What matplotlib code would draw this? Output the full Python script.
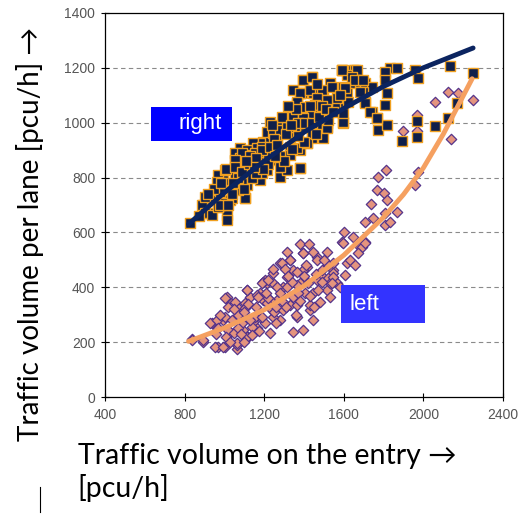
import matplotlib
matplotlib.use("Agg")
import matplotlib.pyplot as plt
from matplotlib.patches import Rectangle
from matplotlib.lines import Line2D

# right-turn lane: entry volume vs. lane volume
right_x = [827, 1013, 928, 892, 968, 943, 1028, 1103, 978, 1063, 993, 1113, 1179, 1068, 1139,
           1279, 1315, 1380, 1053, 1113, 1164, 1229, 1194, 1264, 1078, 1144, 1229, 1279, 1345,
           1330, 1380, 1415, 1465, 1415, 1345, 1445, 1515, 1596, 1505, 1380, 1445, 1495, 1566,
           1445, 1531, 1596, 1591, 1646, 1656, 1395, 1440, 1566,
           1591, 1656, 1832, 1867, 1958, 1973, 2134, 2250, 1807, 1807, 1616, 1646, 1681, 1706,
           1741, 1817, 1696, 1616, 1807, 1706, 1606, 1741, 1596, 1767, 1772, 1817, 1892, 1968,
           1968, 2058, 2124, 2169,
           1053, 1078, 1063, 1113, 1119, 1164, 1194, 1229, 1214, 1244, 1279, 1315, 1365, 1289,
           1345, 1390, 1365, 1390, 1430, 1455, 1445, 1390, 1440, 1415, 1365, 1330, 1264, 1244,
           1179, 1154, 1214, 1279, 1380, 1129, 1078, 1093,
           887, 903, 938, 968, 1003, 1013, 1038, 1103, 968, 1003, 963, 1003, 1053, 1088, 1068,
           1139, 1119, 1189, 1169, 1088, 1154, 1189, 1219, 1053, 903, 1038,
           1395, 1440, 1345, 1380, 1430, 1490, 1541, 1591, 1666, 1641, 1656, 1696, 1606, 1681,
           1566, 1515, 1465, 1365, 1405, 1455, 1355, 1440, 1495, 1621, 1706, 1731, 1767, 1596,
           1345, 1395, 1515, 1465, 1405, 1355, 1440, 1515, 1495,
           950, 980, 1010, 1040, 1070, 1100, 1130, 1160, 1190, 1220, 1250, 1280, 1310, 1340,
           1370, 1400, 1430, 1460, 1490, 1520, 985, 1020, 1055, 1090, 1125, 1160, 1195, 1230,
           1265, 1300, 1335, 1370, 1405, 1440, 1475, 1510, 1545, 1580, 920, 1045, 1150, 1255,
           1360, 1465, 870, 1110, 1240, 1320]
right_y = [634, 663, 671, 700, 693, 718, 718, 725, 747, 766, 791, 773, 791, 820, 828,
           802, 828, 835, 864, 871, 890, 864, 930, 937, 908, 926, 1003, 984, 966,
           911, 900, 926, 973, 1003, 1021, 1021, 984, 999, 1035, 1108, 1108, 1094, 1075,
           1057, 1145, 1130, 1192, 1192, 1163, 1156, 1167, 1057,
           1192, 1192, 1200, 1200, 1192, 1163, 1207, 1181, 1185, 1156, 1174, 1145, 1149, 1145,
           1130, 1108, 1112, 1108, 1065, 1075, 1075, 1039, 1003, 1017, 973, 992, 933, 948,
           1006, 988, 1017, 1072,
           890, 871, 857, 900, 882, 908, 926, 944, 966, 962, 973, 984, 999, 1021,
           1028, 1021, 1072, 1046, 1028, 1057, 1108, 1108, 944, 926, 908, 882, 875, 900,
           864, 839, 828, 839, 835, 828, 828, 802,
           700, 671, 663, 693, 707, 645, 725, 725, 809, 828, 784, 780, 809, 780, 755,
           798, 835, 817, 857, 890, 890, 911, 890, 864, 729, 755,
           1156, 1167, 1119, 1108, 1119, 1119, 1130, 1192, 1192, 1167, 1156, 1156, 1127, 1112,
           1090, 1083, 1090, 1075, 1057, 1065, 1039, 1028, 1035, 1075, 1072, 1039, 1017, 1035,
           1021, 1017, 999, 992, 984, 984, 962, 981, 944,
           760, 700, 830, 740, 800, 760, 880, 815, 900, 850, 940, 880, 960, 905,
           1000, 930, 1060, 960, 1060, 1010, 780, 700, 840, 820, 850, 870, 830, 910,
           920, 860, 990, 950, 1000, 1000, 1020, 1050, 1040, 1100, 740, 780, 840, 880,
           1050, 1140, 660, 860, 990, 1060]

# left-turn lane
left_x = [2124, 2174, 2058, 2250, 1968, 1897, 1968, 2139, 1812, 1772, 1973, 1958, 1767, 1802,
          1817, 1736, 1867, 1807, 1746, 1706, 1807, 1832, 1601, 1646, 1591, 1706, 1681,
          837, 892, 968, 1003, 1063, 1063, 938, 993, 963, 1028, 1119, 1093, 1164, 1229, 1018,
          1013, 1063, 1103, 1129, 1113, 1179, 1214, 1194, 1264, 1279, 1294, 1179, 1144, 1244,
          1330, 1365, 1345, 1395, 1430, 1445, 1244, 1294, 1315, 1345, 1279, 1330, 1395, 1465,
          1415, 1380, 1445, 1495, 1546, 1515, 1566, 1616, 1244, 1204,
          1380, 1425, 1315, 1330, 1290, 1395, 1445, 1516, 1465, 1395, 1365, 1244, 1305, 1490,
          1546, 1546, 1521, 1465, 1420, 1365, 1315, 1264, 1194, 1345, 1405, 1470, 1531, 1531,
          1480, 1430, 1365, 1294, 1229, 1164,
          837, 892, 928, 963, 1003, 968, 1018, 953, 993, 1063, 1113, 1048, 1139, 1088, 1018,
          1053, 1003, 1103, 1154, 1204, 1113, 1169, 1189, 1219, 1214, 1239, 1068, 1139,
          1596, 1691, 1706, 1671, 1631, 1656, 1606, 1546, 1581, 1541,
          980, 1010, 1040, 1070, 1100, 1130, 1160, 1190, 1220, 1250, 1280, 1310, 1340, 1370,
          1400, 1430, 1460, 1490, 1520, 1050, 1085, 1120, 1175, 1210, 1260, 1320, 1360, 1410,
          1450, 1500, 960, 1030, 1100, 1260, 1380]
left_y = [1112, 1108, 1075, 1083, 1028, 970, 970, 941, 828, 802, 820, 773, 755, 744,
          718, 704, 674, 671, 653, 638, 627, 638, 602, 583, 565, 565, 547,
          211, 201, 182, 182, 175, 190, 270, 281, 252, 237, 219, 244, 252, 233, 354,
          365, 328, 343, 365, 390, 379, 416, 354, 354, 281, 317, 292, 273, 292,
          335, 292, 237, 244, 317, 281, 416, 401, 438, 463, 489, 500, 525, 511,
          474, 416, 379, 438, 463, 390, 416, 489, 452, 427,
          558, 558, 529, 500, 489, 525, 529, 529, 500, 463, 456, 467, 467, 463,
          489, 452, 434, 427, 416, 408, 401, 401, 419, 365, 379, 390, 416, 365,
          346, 335, 335, 346, 354, 372,
          208, 208, 270, 281, 292, 252, 244, 182, 182, 197, 219, 233, 255, 270, 328,
          346, 361, 325, 292, 270, 390, 365, 416, 427, 343, 317, 299, 226,
          562, 547, 562, 525, 500, 481, 445, 438, 401, 416,
          300, 220, 280, 250, 310, 280, 330, 290, 360, 310, 380, 330, 420, 380,
          440, 370, 450, 420, 480, 320, 230, 340, 240, 380, 270, 440, 300, 480,
          330, 500, 230, 200, 200, 330, 350]

# trend lines
right_fit_x = [820, 1000, 1200, 1400, 1600, 1800, 2000, 2250]
right_fit_y = [630, 745, 860, 965, 1052, 1132, 1200, 1272]
left_fit_x = [820, 1000, 1200, 1400, 1600, 1800, 1900, 2000, 2100, 2245]
left_fit_y = [203, 252, 318, 405, 517, 655, 738, 835, 958, 1160]

x_ticks = [400, 800, 1200, 1600, 2000, 2400]
y_ticks = [0, 200, 400, 600, 800, 1000, 1200, 1400]

fig = plt.figure(figsize=(5.25, 5.15), dpi=100)
ax = fig.add_axes([0.2, 0.229, 0.758, 0.746])

ax.scatter(left_x, left_y, marker='D', s=28, facecolor='#e4947e', edgecolor='#55338a',
           linewidth=0.9, zorder=2)
ax.scatter(right_x, right_y, marker='s', s=44, facecolor='#0f1f4a', edgecolor='#f0a020',
           linewidth=1.0, zorder=3)
ax.plot(left_fit_x, left_fit_y, color='#f5a060', linewidth=3.5, solid_capstyle='round', zorder=4)
ax.plot(right_fit_x, right_fit_y, color='#0b2460', linewidth=3.5, solid_capstyle='round', zorder=4)

ax.set_xlim(400, 2400)
ax.set_ylim(0, 1400)
ax.set_xticks(x_ticks)
ax.set_yticks(y_ticks)
ax.tick_params(direction='inout', length=6, width=0.8, labelsize=10, labelcolor='#555555')
ax.tick_params(axis='x', pad=5)
ax.tick_params(axis='y', pad=4)
for lbl in ax.get_xticklabels() + ax.get_yticklabels():
    lbl.set_family('Liberation Sans')
for y in y_ticks[1:-1]:
    ax.axhline(y, color='#8a8a8a', linestyle=(0, (4, 3)), linewidth=0.8, zorder=1)
for sp in ax.spines.values():
    sp.set_linewidth(0.9)

# blue label boxes
ax.add_patch(Rectangle((631, 934), 407, 124, facecolor='#0000ff', edgecolor='none', zorder=5))
ax.text(767, 996, 'right', color='white', fontsize=16, family='Liberation Sans',
        va='center', ha='left', zorder=6)
ax.add_patch(Rectangle((1586, 270), 422, 138, facecolor='#3333ff', edgecolor='none', zorder=5))
ax.text(1631, 339, 'left', color='white', fontsize=16, family='Liberation Sans',
        va='center', ha='left', zorder=6)

fig.text(0.058, 0.545, 'Traffic volume per lane [pcu/h] \u2192', rotation=90, fontsize=20,
         family=['Lato', 'DejaVu Sans'], ha='center', va='center')
fig.text(0.148, 0.083, 'Traffic volume on the entry \u2192\n[pcu/h]', fontsize=20.5,
         family=['Lato', 'DejaVu Sans'], ha='left', va='center', linespacing=1.2)
fig.add_artist(Line2D([0.076, 0.076], [0.006, 0.054], color='black', linewidth=0.8))

fig.savefig('out.png', dpi=100)
